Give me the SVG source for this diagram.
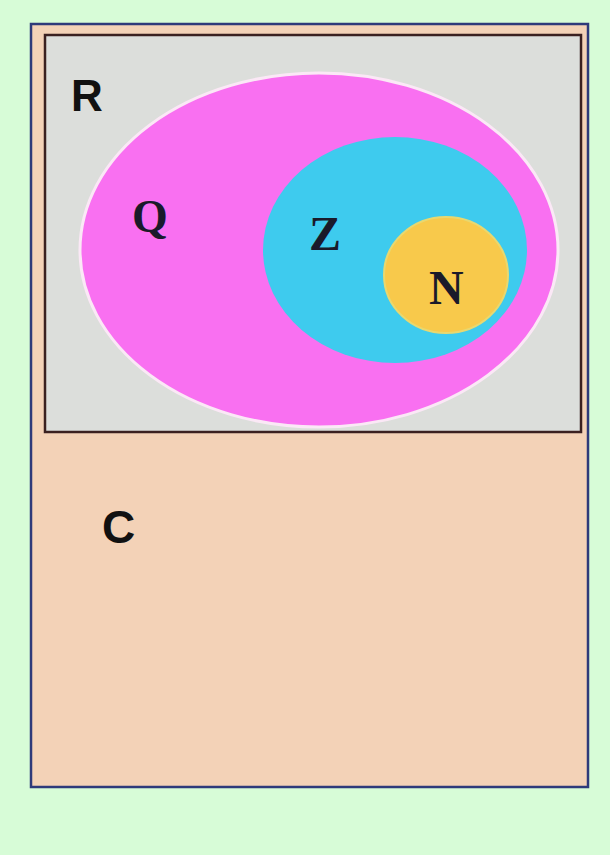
<svg xmlns="http://www.w3.org/2000/svg" width="610" height="855" viewBox="0 0 610 855">
<style>
.sans{font-family:"Liberation Sans",Arial,sans-serif;font-weight:bold;fill:#111}
.serif{font-family:"Liberation Serif","Times New Roman",serif;font-weight:bold;fill:#1a1a2a}
</style>
<rect width="610" height="855" fill="#d7fcd7"/>
<g id="C">
<rect x="31" y="24" width="557" height="763" fill="#f3d2b7" stroke="#2e3a7a" stroke-width="2.5"/>
<text class="sans" x="102" y="543" font-size="46">C</text>
</g>
<g id="R">
<rect x="45" y="35" width="536" height="397" fill="#dcdedb" stroke="#3a2020" stroke-width="2.5"/>
<text class="sans" x="71" y="111" font-size="44">R</text>
</g>
<g id="Q">
<ellipse cx="319" cy="250" rx="239" ry="177" fill="#f970f1" stroke="#fbe8f6" stroke-width="3"/>
<text class="serif" x="132" y="232" font-size="46">Q</text>
</g>
<g id="Z">
<ellipse cx="395" cy="250" rx="132" ry="113" fill="#3ecbee"/>
<text class="serif" x="309" y="250" font-size="48">Z</text>
</g>
<g id="N">
<ellipse cx="446" cy="275" rx="62" ry="58" fill="#f8c94b" stroke="#e8d870" stroke-width="2"/>
<text class="serif" x="429" y="304" font-size="48">N</text>
</g>
<g id="connectors"></g>
</svg>
